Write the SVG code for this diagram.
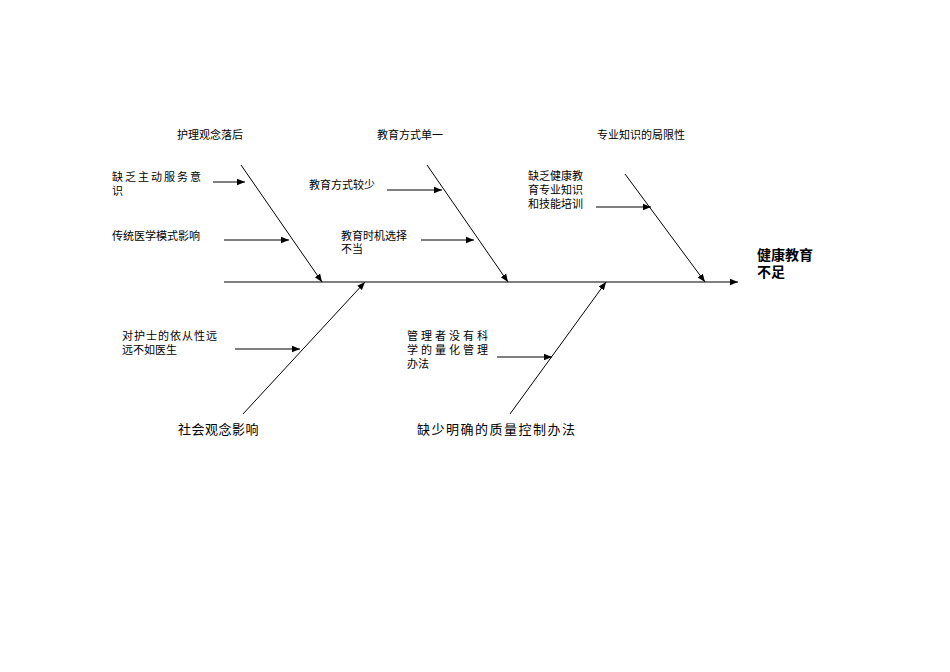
<svg xmlns="http://www.w3.org/2000/svg" width="950" height="672" viewBox="0 0 950 672">
<style>
text{font-family:"Liberation Serif","Noto Sans CJK SC",serif;fill:#000}
.s{font-size:11px}
.b{font-size:13px}
.h{font-size:14px;font-weight:bold}
line{stroke:#000;stroke-width:1}
</style>
<defs><marker id="a" viewBox="0 0 10 10" refX="10" refY="5" markerWidth="8" markerHeight="8" markerUnits="userSpaceOnUse" orient="auto"><path d="M0,1 L10,5 L0,9 z" fill="#000"/></marker></defs>
<rect width="950" height="672" fill="#fff"/>
<g id="connectors" marker-end="url(#a)">
<line x1="224" y1="282" x2="738" y2="282" stroke-width="1.3"/>
<line x1="241" y1="165" x2="322" y2="282"/>
<line x1="427" y1="165" x2="508" y2="282"/>
<line x1="625" y1="174" x2="705" y2="282"/>
<line x1="243" y1="414" x2="365" y2="282"/>
<line x1="510" y1="414" x2="606" y2="282"/>
<line x1="213" y1="182" x2="245" y2="182"/>
<line x1="224" y1="240" x2="289" y2="240"/>
<line x1="387" y1="190" x2="442" y2="190"/>
<line x1="421" y1="240" x2="474" y2="240"/>
<line x1="596" y1="207" x2="651" y2="207"/>
<line x1="235" y1="349" x2="300" y2="349"/>
<line x1="497" y1="357" x2="552" y2="357"/>
</g>
<g id="effect"><text class="h" x="757" y="260">健康教育</text><text class="h" x="757" y="277">不足</text></g>
<g id="c1"><text class="s" x="210" y="139" text-anchor="middle">护理观念落后</text></g>
<g id="c2"><text class="s" x="410" y="139" text-anchor="middle">教育方式单一</text></g>
<g id="c3"><text class="s" x="641" y="139" text-anchor="middle">专业知识的局限性</text></g>
<g id="c4"><text class="b" x="178" y="434" letter-spacing="0.5">社会观念影响</text></g>
<g id="c5"><text class="b" x="417" y="434" letter-spacing="1.5">缺少明确的质量控制办法</text></g>
<g id="s1"><text class="s" x="112" y="181" letter-spacing="2">缺乏主动服务意</text><text class="s" x="112" y="195">识</text></g>
<g id="s2"><text class="s" x="112" y="240">传统医学模式影响</text></g>
<g id="s3"><text class="s" x="309" y="189">教育方式较少</text></g>
<g id="s4"><text class="s" x="341" y="240">教育时机选择</text><text class="s" x="341" y="253">不当</text></g>
<g id="s5"><text class="s" x="528" y="180">缺乏健康教</text><text class="s" x="528" y="194">育专业知识</text><text class="s" x="528" y="208">和技能培训</text></g>
<g id="s6"><text class="s" x="122" y="340" letter-spacing="1">对护士的依从性远</text><text class="s" x="122" y="354">远不如医生</text></g>
<g id="s7"><text class="s" x="407" y="340" letter-spacing="3">管理者没有科</text><text class="s" x="407" y="354" letter-spacing="3">学的量化管理</text><text class="s" x="407" y="368">办法</text></g>
</svg>
